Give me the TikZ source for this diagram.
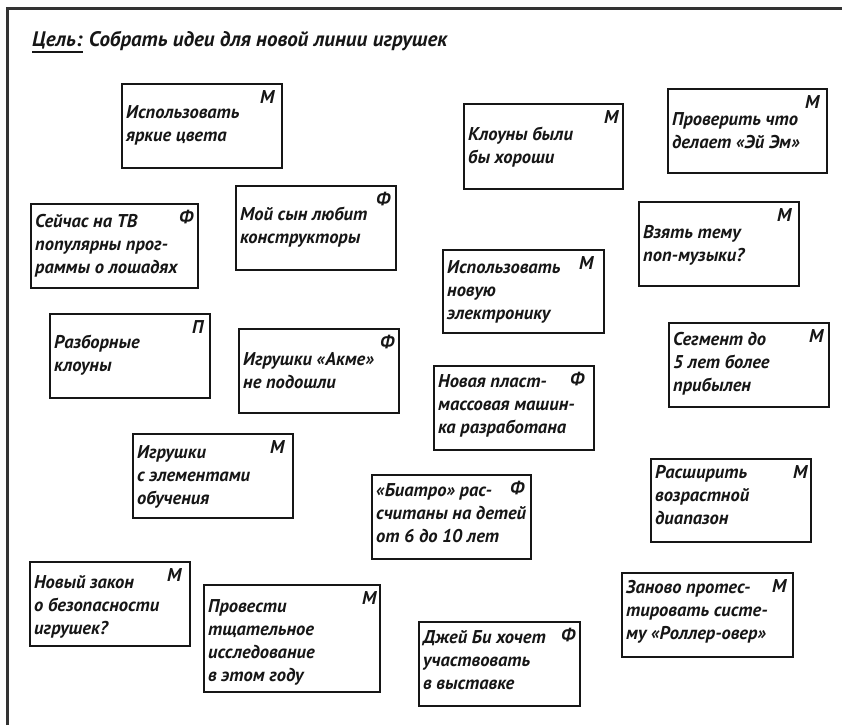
\documentclass[tikz,border=0pt]{standalone}
\usepackage{fontspec}
\setmainfont{PT Sans}
\definecolor{ink}{HTML}{161616}
\definecolor{frameink}{HTML}{333333}
\newcommand\cardfont{\fontsize{18.5}{23}\selectfont\bfseries\itshape}
% \ideacard{name}{x}{y}{width}{height}{tag}{tag inset}{first baseline}{lines}
\newcommand\ideacard[9]{%
  \node[card, minimum width=#4pt, minimum height=#5pt] (#1) at (#2,#3) {};
  \node[cardtext] (#1-text) at ([xshift=5pt, yshift=16.1pt-#8pt]#1.north west) {\strut #9};
  \node[tag] (#1-tag) at ([xshift=-#7pt, yshift=-7pt]#1.north east) {#6};
}
\begin{document}
\begin{tikzpicture}[x=1pt, y=-1pt,
  card/.style={draw=ink, line width=1.6pt, anchor=north west, inner sep=0pt, fill=white},
  cardtext/.style={anchor=north west, align=left, inner sep=0pt, font=\cardfont, text=ink},
  tag/.style={anchor=north east, inner sep=0pt, font=\cardfont, text=ink},
  titletext/.style={anchor=base west, inner sep=0pt, font=\fontsize{21}{24}\selectfont\bfseries\itshape, text=ink}]
  \useasboundingbox (0,0) rectangle (842,725);
  \fill[white] (0,0) rectangle (842,725);

  % sheet border: top and left edges
  \draw[frameink, line width=3pt] (7,725) -- (7,9) -- (842,9);

  % heading
  \node[titletext] (goal) at (32,47) {Цель:};
  \node[titletext, anchor=base west] (goaltext) at ([xshift=6pt]goal.base east) {Собрать идеи для новой линии игрушек};
  \draw[ink, line width=1.6pt] ([yshift=-5pt]goal.base west) -- ([yshift=-5pt]goal.base east);

  % idea cards
  \ideacard{a}{121}{83}{160}{84}{М}{8}{35}{Использовать\\яркие цвета}
  \ideacard{b}{463}{103}{159}{85}{М}{5}{37}{Клоуны были\\бы хороши}
  \ideacard{c}{667}{88}{159}{84}{М}{8}{37}{Проверить что\\делает «Эй Эм»}
  \ideacard{d}{30}{203}{167}{84}{Ф}{5}{24}{Сейчас на ТВ\\популярны прог-\\раммы о лошадях}
  \ideacard{e}{235}{185}{160}{84}{Ф}{6}{35}{Мой сын любит\\конструкторы}
  \ideacard{f}{638}{201}{160}{84}{М}{8}{37}{Взять тему\\поп-музыки?}
  \ideacard{g}{442}{249}{161}{83}{М}{11}{24}{Использовать\\новую\\электронику}
  \ideacard{h}{49}{313}{160}{84}{П}{7}{35}{Разборные\\клоуны}
  \ideacard{i}{238}{328}{160}{84}{Ф}{5}{37}{Игрушки «Акме»\\не подошли}
  \ideacard{j}{668}{322}{160}{84}{М}{6}{23}{Сегмент до\\5 лет более\\прибылен}
  \ideacard{k}{433}{365}{160}{84}{Ф}{10}{22}{Новая пласт-\\массовая машин-\\ка разработана}
  \ideacard{l}{132}{433}{160}{84}{М}{9}{25}{Игрушки\\с элементами\\обучения}
  \ideacard{m}{371}{474}{159}{84}{Ф}{7}{22}{«Биатро» рас-\\считаны на детей\\от 6 до 10 лет}
  \ideacard{n}{650}{458}{160}{83}{М}{4}{20}{Расширить\\возрастной\\диапазон}
  \ideacard{o}{29}{561}{160}{84}{М}{9}{27}{Новый закон\\о безопасности\\игрушек?}
  \ideacard{p}{203}{584}{176}{107}{М}{4}{28}{Провести\\тщательное\\исследование\\в этом году}
  \ideacard{q}{418}{621}{161}{84}{Ф}{5}{22}{Джей Би хочет\\участвовать\\в выставке}
  \ideacard{r}{621}{572}{171}{84}{М}{7}{21}{Заново протес-\\тировать систе-\\му «Роллер-овер»}
\end{tikzpicture}
\end{document}
